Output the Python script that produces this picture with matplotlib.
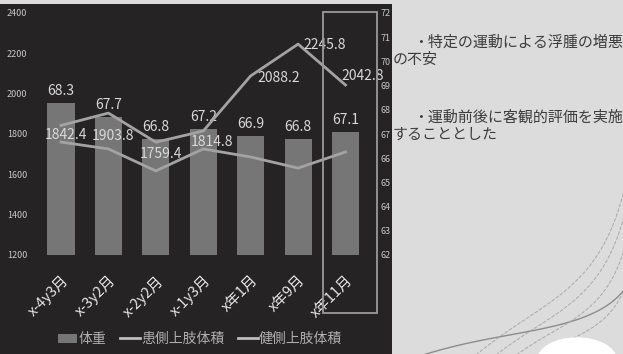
import numpy as np
import matplotlib
matplotlib.use("Agg")
import matplotlib.pyplot as plt
from matplotlib.patches import Rectangle, Circle
from matplotlib.lines import Line2D
from math import comb

plt.rcParams['font.family'] = ['Noto Sans CJK JP', 'DejaVu Sans']

# data
months = ["x-4y3月", "x-3y2月", "x-2y2月", "x-1y3月", "x年1月", "x年9月", "x年11月"]
weight = [68.3, 67.7, 66.8, 67.2, 66.9, 66.8, 67.1]
affected = [1842.4, 1903.8, 1759.4, 1814.8, 2088.2, 2245.8, 2042.8]
healthy = [1760, 1726, 1617, 1726, 1686, 1631, 1711]
notes = ["・特定の運動による浮腫の増悪", "の不安", "・運動前後に客観的評価を実施", "することとした"]

W, H = 623, 354
fig = plt.figure(figsize=(W / 100, H / 100), dpi=100, facecolor="#dcdcdd")

def fx(px):
    return px / W

def fy(py):
    return 1 - py / H

# dark panel
fig.patches.append(Rectangle((0, 0), fx(392), fy(4), transform=fig.transFigure,
                             facecolor="#252323", edgecolor="none", zorder=-5))

# decorative curves on the right panel
deco = [
    ([(420, 356), (500, 330), (560, 332), (610, 320), (625, 290), (630, 280)], "-", "#8c8c8c", 1.0),
    ([(470, 360), (540, 300), (580, 300), (615, 250), (620, 200), (630, 170)], "--", "#a8a8a8", 0.7),
    ([(490, 360), (550, 310), (590, 310), (620, 260), (625, 210), (632, 180)], "--", "#a8a8a8", 0.7),
    ([(510, 360), (560, 320), (600, 320), (625, 280), (628, 230), (635, 200)], "--", "#a8a8a8", 0.7),
    ([(530, 362), (575, 330), (610, 335), (630, 300), (633, 260), (640, 230)], "--", "#a8a8a8", 0.7),
]
t = np.linspace(0, 1, 100)
for pts, ls, col, lw in deco:
    pts = np.array(pts, dtype=float)
    n = len(pts) - 1
    curve = sum(comb(n, i) * (t ** i)[:, None] * ((1 - t) ** (n - i))[:, None] * pts[i] for i in range(n + 1))
    fig.lines.append(Line2D(fx(curve[:, 0]), fy(curve[:, 1]), transform=fig.transFigure,
                            color=col, lw=lw, ls=ls, zorder=-4))
fig.patches.append(Circle((fx(577), fy(360)), 40 / W, transform=fig.transFigure,
                          facecolor="white", edgecolor="none", zorder=-3))

# main axes
x0, x1 = 37, 378
ax = fig.add_axes([fx(x0), fy(255), (x1 - x0) / W, 242 / H])
ax.set_facecolor("none")
ax2 = ax.twinx()
ax2.set_facecolor("none")
ax.set_zorder(ax2.get_zorder() + 1)

x = np.arange(len(months))
ax2.bar(x, [w - 62 for w in weight], bottom=62, width=0.57, color="#767676",
        edgecolor="none", label="体重")
ax2.set_ylim(62, 72)
ax2.set_yticks(range(62, 73))

ax.plot(x, affected, color="#a3a3a3", lw=2, label="患側上肢体積")
ax.plot(x, healthy, color="#a3a3a3", lw=2, label="健側上肢体積")
ax.set_ylim(1200, 2400)
ax.set_yticks(range(1200, 2401, 200))
ax.set_xlim(-0.506, 6.685)
ax.set_xticks(x)
ax.set_xticklabels(months, rotation=45, ha="right", rotation_mode="anchor",
                   fontsize=10.5, color="#e6e6e6")

for a in (ax, ax2):
    for s in a.spines.values():
        s.set_visible(False)
ax.tick_params(axis="x", length=0, pad=13)
ax.tick_params(axis="y", length=0, labelsize=6.5, labelcolor="#c8c8c8", pad=7)
ax2.tick_params(axis="y", length=0, labelsize=6.5, labelcolor="#c8c8c8", pad=2)

# bar labels
for xi, w in zip(x, weight):
    ax2.annotate(f"{w:.1f}", (xi, w), xytext=(0, 12), textcoords="offset pixels",
                 ha="center", va="center", fontsize=10, color="#d9d9d9", zorder=5)

# line labels
offs = [(5, -10), (5, -23), (5, -12), (9, -11), (28, -2), (27, -1), (17, 9)]
for xi, v, (dx, dy) in zip(x, affected, offs):
    ax.annotate(f"{v:.1f}", (xi, v), xytext=(dx, dy), textcoords="offset pixels",
                ha="center", va="center", fontsize=10, color="#d9d9d9", zorder=5)

# highlight box
fig.patches.append(Rectangle((fx(323), fy(313)), (377 - 323) / W, (313 - 12) / H,
                             transform=fig.transFigure, facecolor="none",
                             edgecolor="#9a9a9a", lw=1.3, zorder=6))

# legend
h1 = Rectangle((0, 0), 1, 1, facecolor="#767676", edgecolor="none")
h2 = Line2D([], [], color="#bdbdbd", lw=2)
fig.legend([h1, h2, h2], ["体重", "患側上肢体積", "健側上肢体積"],
           loc="center", bbox_to_anchor=(fx(200), fy(339)), ncol=3, frameon=False,
           fontsize=10, labelcolor="#b0b0b0", handlelength=1.4, handleheight=0.6,
           handletextpad=0.1, columnspacing=1.0)

# right panel notes
note_pos = [(413, 42), (393, 60), (413, 117), (393, 135)]
for s, (px, py) in zip(notes, note_pos):
    fig.text(fx(px), fy(py), s, fontsize=10.8, color="#3c3c3c", va="center", ha="left")

fig.savefig("out.png", dpi=100, facecolor=fig.get_facecolor())
